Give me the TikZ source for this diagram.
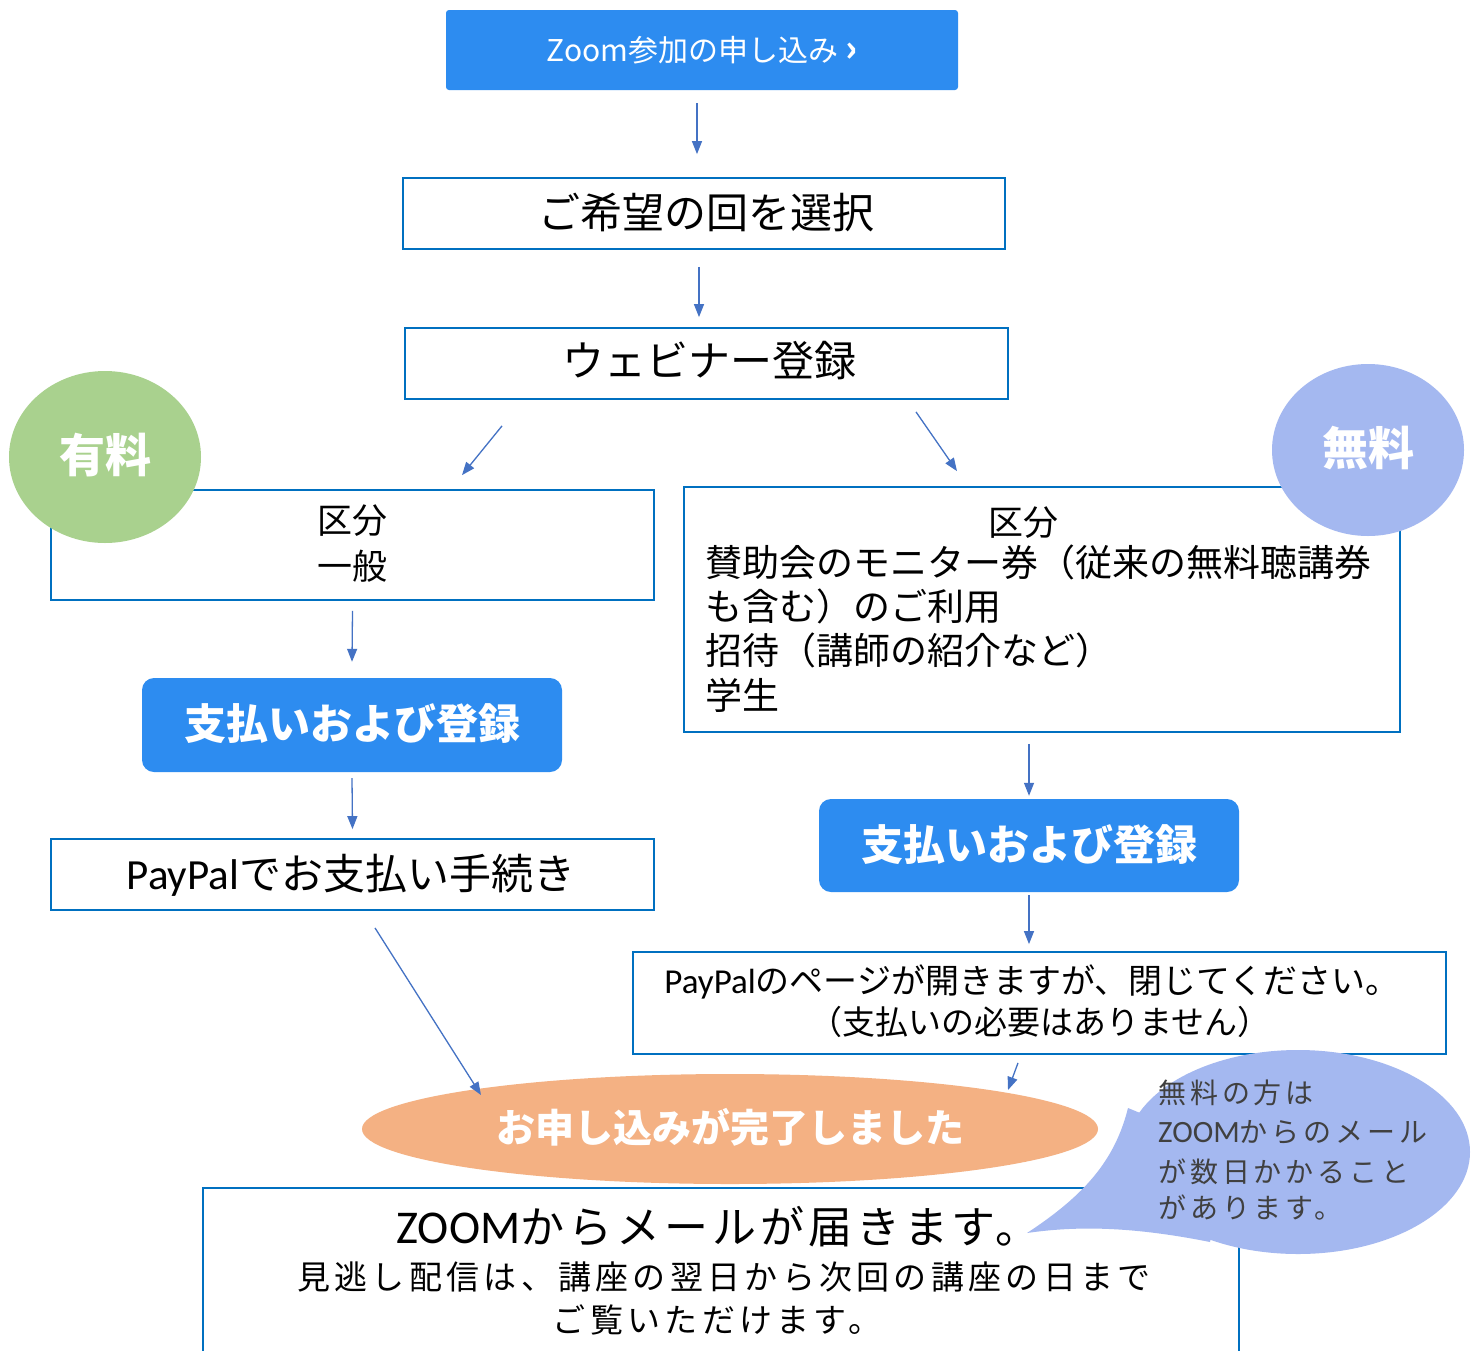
\documentclass[tikz,border=0pt]{standalone}
\usepackage{fontspec}
\setmainfont{Noto Sans CJK JP}
\newfontfamily\lat{Carlito}
\usetikzlibrary{arrows.meta,shapes.geometric,calc}
\definecolor{bdr}{HTML}{0070C0}
\definecolor{arrc}{HTML}{4472C4}
\definecolor{btn}{HTML}{2D8CF0}
\definecolor{grn}{HTML}{A9D18E}
\definecolor{lav}{HTML}{A4B8F0}
\definecolor{org}{HTML}{F4B183}
\definecolor{txtg}{HTML}{404040}
\begin{document}
\begin{tikzpicture}[x=1pt,y=-1pt,
  box/.style={draw=bdr,line width=1.8pt,fill=white,inner sep=0pt},
  btnbox/.style={fill=btn,rounded corners=12pt,inner sep=0pt},
  fs/.style={inner sep=0pt,font=\fontsize{#1}{#1}\selectfont,text height={0.88*#1},text depth={0.12*#1}},
  fb/.style={inner sep=0pt,font=\fontsize{#1}{#1}\selectfont\bfseries,text height={0.88*#1},text depth={0.12*#1},text=white},
  conn/.style={draw=arrc,line width=1.3pt,-{Triangle[length=13pt,width=10pt]}}]
\useasboundingbox (0,0) rectangle (1478,1350);
\clip (0,0) rectangle (1478,1350);
\fill[white] (0,0) rectangle (1478,1350);

% top button
\node[btnbox,rounded corners=3pt,minimum width=512pt,minimum height=80pt] (top) at (702,50) {};
\node[fs=30,text=white] (toptxt) at (702,50) {Zoom参加の申し込み {\bfseries\fontsize{36}{36}\selectfont ›}};

% boxes
\node[box,minimum width=602pt,minimum height=71pt] (sel) at (704,213.5) {};
\node[fs=42] (seltxt) at (706,213) {ご希望の回を選択};
\node[box,minimum width=603pt,minimum height=71pt] (web) at (706.5,363.5) {};
\node[fs=42] (webtxt) at (709,361) {ウェビナー登録};

\node[box,minimum width=603pt,minimum height=110pt] (gen) at (352.5,545) {};
\node[fs=35] (gen1) at (352,520) {区分};
\node[fs=35] (gen2) at (352,566) {一般};

\node[box,minimum width=716pt,minimum height=245pt] (free) at (1042,609.5) {};
\node[fs=35] (free0) at (1023,522) {区分};
\node[fs=37,anchor=west] (free1) at (705,562) {賛助会のモニター券（従来の無料聴講券};
\node[fs=37,anchor=west] (free2) at (705,606) {も含む）のご利用};
\node[fs=37,anchor=west] (free3) at (705,650) {招待（講師の紹介など）};
\node[fs=37,anchor=west] (free4) at (705,695) {学生};

% circles
\node[ellipse,fill=grn,minimum width=192pt,minimum height=172pt,inner sep=0pt] (paid) at (105,457) {};
\node[fb=46] (paidtxt) at (105,455) {有料};
\node[ellipse,fill=lav,minimum width=192pt,minimum height=172pt,inner sep=0pt] (freec) at (1368,450) {};
\node[fb=46] (freetxt) at (1368,448) {無料};

% pay buttons
\node[btnbox,minimum width=420pt,minimum height=94pt] (payL) at (352,725) {};
\node[fb=42] (payLtxt) at (352,724) {支払いおよび登録};
\node[btnbox,minimum width=420pt,minimum height=93pt] (payR) at (1029,845.5) {};
\node[fb=42] (payRtxt) at (1029,845) {支払いおよび登録};

\node[box,minimum width=603pt,minimum height=71pt] (pp) at (352.5,874.5) {};
\node[fs=42] (pptxt) at (351,874) {{\lat\fontsize{43}{43}\selectfont PayPal}でお支払い手続き};

\node[box,minimum width=813pt,minimum height=102pt] (ppr) at (1039.5,1003) {};
\node[fs=34] (ppr1) at (1032,981) {{\lat\fontsize{35}{35}\selectfont PayPal}のページが開きますが、閉じてください。};
\node[fs=33] (ppr2) at (1040,1022) {（支払いの必要はありません）};

% done ellipse
\node[ellipse,fill=org,minimum width=736pt,minimum height=110pt,inner sep=0pt] (done) at (730,1129) {};
\node[fb=39] (donetxt) at (730,1128) {お申し込みが完了しました};

% mail box
\node[box,minimum width=1036pt,minimum height=212pt] (mail) at (721,1294) {};
\node[fs=44] (mail1) at (718,1227) {\addfontfeature{LetterSpace=9}{\lat\fontsize{47}{47}\selectfont ZOOM}からメールが届きます。};
\node[fs=33] (mail2) at (724,1277) {\addfontfeature{LetterSpace=13}見逃し配信は、講座の翌日から次回の講座の日まで};
\node[fs=33] (mail3) at (717,1320) {\addfontfeature{LetterSpace=13}ご覧いただけます。};

% callout
\fill[lav] (1298,1152) ellipse [x radius=172, y radius=102];
\fill[lav] (1027,1233) .. controls (1085,1195) and (1115,1160) .. (1128,1108)
  -- (1230,1150) -- (1210,1242) .. controls (1130,1226) and (1075,1226) .. cycle;
\node[fs=28,anchor=west,text=txtg] (c1) at (1158,1093) {\addfontfeature{LetterSpace=14}無料の方は};
\node[fs=28,anchor=west,text=txtg] (c2) at (1158,1132) {{\lat\fontsize{31}{31}\selectfont ZOOM}\addfontfeature{LetterSpace=14}からのメール};
\node[fs=28,anchor=west,text=txtg] (c3) at (1158,1172) {\addfontfeature{LetterSpace=14}が数日かかること};
\node[fs=28,anchor=west,text=txtg] (c4) at (1158,1208) {\addfontfeature{LetterSpace=14}があります。};

% connectors
\draw[conn] ([xshift=-5pt,yshift=-13pt]top.south) -- ([xshift=-7pt,yshift=23pt]sel.north);
\draw[conn] ([xshift=-5pt,yshift=-17pt]sel.south) -- ([xshift=-7.5pt,yshift=10pt]web.north);
\draw[conn] ([xshift=-204.5pt,yshift=-26pt]web.south) -- ([xshift=109.5pt,yshift=14pt]gen.north);
\draw[conn] ([xshift=209.5pt,yshift=-12pt]web.south) -- ([xshift=-85pt,yshift=15pt]free.north);
\draw[conn] ([yshift=-10pt]gen.south) -- ([yshift=16pt]payL.north);
\draw[conn] ([yshift=-6pt]payL.south) -- ([yshift=9pt]pp.north);
\draw[conn] ([xshift=-13pt,yshift=-11pt]free.south) -- ([yshift=3pt]payR.north);
\draw[conn] ([yshift=-3pt]payR.south) -- ([xshift=-10.5pt,yshift=7pt]ppr.north);
\draw[conn] ([xshift=22.5pt,yshift=-17pt]pp.south) -- ([xshift=-249pt,yshift=34pt]done.center);
\draw[conn] ([xshift=-21.5pt,yshift=-8pt]ppr.south) -- ([xshift=278pt,yshift=39pt]done.center);
\end{tikzpicture}
\end{document}
